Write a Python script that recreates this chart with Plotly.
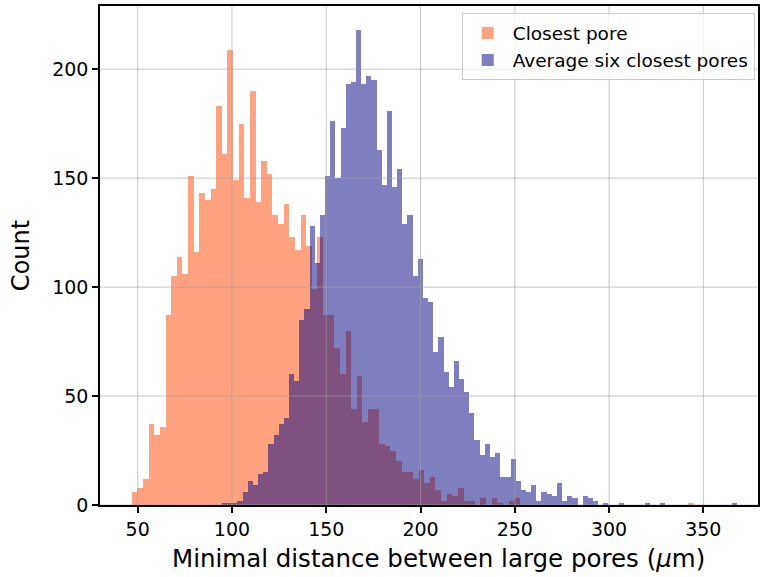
import numpy as np
import plotly.graph_objects as go

# ---- data ----
closest_start = 46.9      # left edge of first bin
closest_width = 2.982     # bin width
closest_counts = [6, 8, 12, 37, 32, 36, 87, 105, 114, 106,
                  151, 116, 143, 140, 145, 183, 161, 209, 149, 175,
                  141, 190, 139, 158, 152, 133, 129, 138, 123, 117,
                  133, 119, 99, 123, 87, 87, 72, 60, 80, 44,
                  59, 38, 44, 44, 28, 27, 25, 20, 15, 15,
                  12, 16, 10, 13, 7, 2, 5, 4, 8, 2,
                  2, 0, 3, 0, 3, 1, 0, 2, 3, 0,
                  0, 0, 0, 0, 0, 0, 0, 0, 0, 0,
                  0, 0, 0, 0, 0, 0, 0, 0, 0, 0,
                  0, 0, 0, 0, 0, 0, 0, 0, 0, 1]

avg6_start = 94.7
avg6_width = 2.733
avg6_counts = [1, 1, 1, 2, 6, 11, 9, 14, 15, 28,
               32, 37, 40, 60, 57, 85, 90, 128, 111, 133,
               151, 176, 150, 173, 193, 194, 218, 193, 197, 195,
               163, 147, 181, 146, 154, 129, 133, 105, 113, 95,
               93, 70, 77, 61, 54, 66, 58, 52, 42, 30,
               23, 28, 22, 24, 13, 13, 21, 11, 7, 6,
               9, 2, 6, 5, 4, 10, 2, 4, 3, 0,
               4, 3, 2, 0, 1, 0, 0, 1, 0, 0,
               0, 0, 1, 0, 0, 1, 0, 0, 0, 0,
               0, 0, 0, 0, 0, 0, 0, 0, 0, 1]

x_ticks = [50, 100, 150, 200, 250, 300, 350]
y_ticks = [0, 50, 100, 150, 200]
series_names = ["Closest pore", "Average six closest pores"]
x_label = "Minimal distance between large pores (<i>μ</i>m)"
y_label = "Count"

# ---- figure ----
def centers(start, width, n):
    return start + (np.arange(n) + 0.5) * width

FONT = "DejaVu Sans"
fig = go.Figure()
fig.add_trace(go.Bar(
    x=centers(closest_start, closest_width, len(closest_counts)),
    y=closest_counts, width=closest_width,
    marker=dict(color="rgba(255,69,0,0.5)", line=dict(width=0)),
    name=series_names[0]))
fig.add_trace(go.Bar(
    x=centers(avg6_start, avg6_width, len(avg6_counts)),
    y=avg6_counts, width=avg6_width,
    marker=dict(color="rgba(0,0,128,0.5)", line=dict(width=0)),
    name=series_names[1]))

grid_col = "rgba(160,160,160,0.6)"
for v in x_ticks:
    fig.add_shape(type="line", xref="x", yref="paper", x0=v, x1=v, y0=0, y1=1,
                  line=dict(color=grid_col, width=1), layer="above")
for v in y_ticks:
    fig.add_shape(type="line", xref="paper", yref="y", x0=0, x1=1, y0=v, y1=v,
                  line=dict(color=grid_col, width=1), layer="above")

axis_common = dict(showline=True, mirror=True, linecolor="black", linewidth=1.5,
                   ticks="outside", ticklen=6, tickwidth=1.5, tickcolor="black",
                   showgrid=False, zeroline=False,
                   tickfont=dict(family=FONT, size=19, color="black"))

fig.add_annotation(text=x_label, xref="paper", yref="paper", x=0.5, y=0,
                   xanchor="center", yanchor="middle", xshift=9, yshift=-53,
                   showarrow=False, font=dict(family=FONT, size=24.5, color="black"))

fig.update_layout(
    width=761, height=577,
    margin=dict(l=100, r=1, t=6, b=72),
    paper_bgcolor="white", plot_bgcolor="white",
    barmode="overlay", bargap=0,
    font=dict(family=FONT, color="black"),
    xaxis=dict(range=[30, 379], tickvals=x_ticks, **axis_common),
    yaxis=dict(range=[0, 229], tickvals=y_ticks,
               title=dict(text=y_label, font=dict(family=FONT, size=24), standoff=16),
               **axis_common),
    legend=dict(x=0.995, y=0.985, xanchor="right", yanchor="top",
                bgcolor="rgba(255,255,255,0.8)", bordercolor="#cccccc", borderwidth=1,
                itemwidth=40,
                font=dict(family=FONT, size=18.5, color="black")),
)

fig.write_html("out.html")
